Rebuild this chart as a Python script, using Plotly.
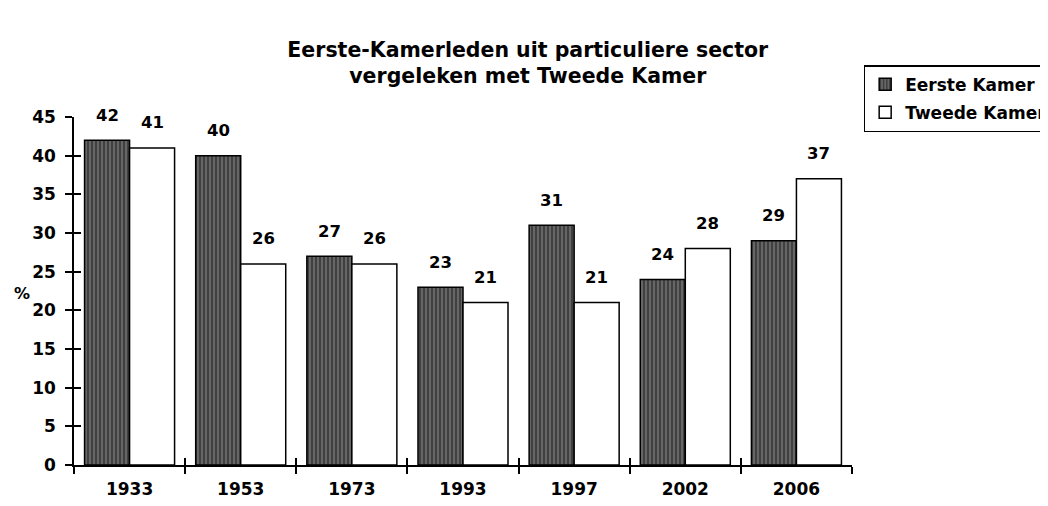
import plotly.graph_objects as go

years = ["1933", "1953", "1973", "1993", "1997", "2002", "2006"]
eerste = [42, 40, 27, 23, 31, 24, 29]
tweede = [41, 26, 26, 21, 21, 28, 37]
y_ticks = [0, 5, 10, 15, 20, 25, 30, 35, 40, 45]

FONT = "DejaVu Sans, Arial, sans-serif"
BOLD = dict(family=FONT, color="black", weight="bold")

fig = go.Figure()
fig.add_trace(go.Bar(
    x=years, y=eerste, name="Eerste Kamer", legendgroup="a",
    marker=dict(color="#555555", line=dict(color="black", width=1.5),
                pattern=dict(shape="|", fgcolor="#111111", bgcolor="#666666", size=4, solidity=0.45)),
    hoverinfo="skip"))
fig.add_trace(go.Bar(
    x=years, y=tweede, name="Tweede Kamer", legendgroup="b",
    marker=dict(color="white", line=dict(color="black", width=1.5)),
    hoverinfo="skip"))
# invisible helper trace so the overlay axes (inside tick marks) render
fig.add_trace(go.Scatter(x=years, y=eerste, xaxis="x2", yaxis="y2", mode="markers",
                         marker=dict(opacity=0), showlegend=False, hoverinfo="skip"))

annotations = []
for i, v in enumerate(eerste):
    annotations.append(dict(x=i, y=v, xref="x", yref="y", text=str(v), showarrow=False,
                            xshift=-22.5, yshift=25, font=dict(size=16.5, **BOLD)))
for i, v in enumerate(tweede):
    annotations.append(dict(x=i, y=v, xref="x", yref="y", text=str(v), showarrow=False,
                            xshift=22.5, yshift=25, font=dict(size=16.5, **BOLD)))
annotations.append(dict(xref="paper", yref="paper", x=-0.067, y=0.494, text="%", showarrow=False,
                        xanchor="center", yanchor="middle", font=dict(size=16, **BOLD)))

axis_common = dict(showline=True, linecolor="black", linewidth=1.5, tickcolor="black", tickwidth=1.5,
                   showgrid=False, zeroline=False)
xrange = [-0.5, len(years) - 0.5]

fig.update_layout(
    width=1048, height=506,
    paper_bgcolor="white", plot_bgcolor="white",
    margin=dict(l=66, r=204, t=109, b=49, autoexpand=False),
    barmode="group", bargap=0.19, bargroupgap=0,
    title=dict(text="Eerste-Kamerleden uit particuliere sector<br>vergeleken met Tweede Kamer",
               x=0.496, xanchor="center", y=0.904, yanchor="top", yref="container",
               font=dict(size=20.5, **BOLD)),
    font=dict(family=FONT, color="black"),
    xaxis=dict(type="category", categoryorder="array", categoryarray=years, tickson="boundaries",
               range=xrange, ticks="outside", ticklen=7, ticklabelstandoff=8,
               tickfont=dict(size=17, **BOLD), **axis_common),
    yaxis=dict(range=[0, 45], tickvals=y_ticks, ticks="outside", ticklen=7, ticklabelstandoff=6,
               tickfont=dict(size=17, **BOLD), **axis_common),
    xaxis2=dict(type="category", categoryorder="array", categoryarray=years, tickson="boundaries",
                range=xrange, overlaying="x", ticks="inside", ticklen=7, showticklabels=False,
                **axis_common),
    yaxis2=dict(range=[0, 45], tickvals=y_ticks, overlaying="y", ticks="inside", ticklen=7,
                showticklabels=False, **axis_common),
    legend=dict(x=1.015, y=1.149, xanchor="left", yanchor="top", bordercolor="black", borderwidth=1.5,
                font=dict(size=17, **BOLD), tracegroupgap=3, traceorder="grouped", itemwidth=30,
                bgcolor="white"),
    annotations=annotations,
)

fig.write_html("out.html")
